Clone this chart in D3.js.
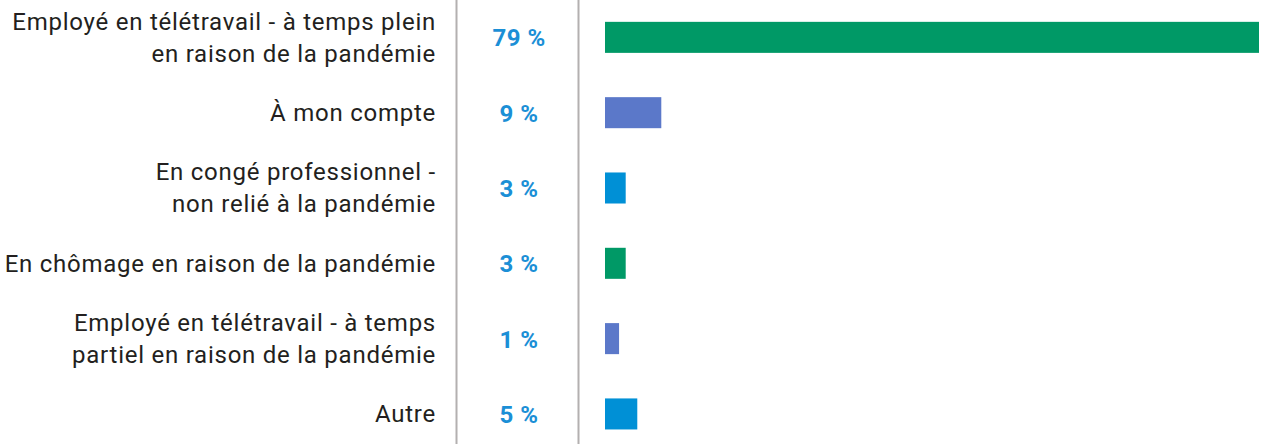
<!DOCTYPE html>
<html>
<head>
<meta charset="utf-8">
<script src="https://cdn.jsdelivr.net/npm/d3@7"></script>
<style>
  body { margin: 0; background: #fff; }
  text { font-family: Roboto, "Noto Sans", sans-serif; }
</style>
</head>
<body>
<div id="chart"></div>
<script>
// categories (label lines)
let categories = [
    ["Employé en télétravail - à temps plein", "en raison de la pandémie"],
    ["À mon compte"],
    ["En congé professionnel -", "non relié à la pandémie"],
    ["En chômage en raison de la pandémie"],
    ["Employé en télétravail - à temps", "partiel en raison de la pandémie"],
    ["Autre"]
];
// printed percentages
let percentLabels = ["79 %", "9 %", "3 %", "3 %", "1 %", "5 %"];
// bar lengths as drawn (percent)
let barValues = [79, 6.8, 2.5, 2.5, 1.7, 3.9];
let barColors = ["#009966", "#5b78c9", "#0090d6", "#009966", "#5b78c9", "#0090d6"];

let width = 1261, height = 444;
let svg = d3.select("#chart").append("svg")
    .attr("width", width)
    .attr("height", height);

let ids = categories.map((d, i) => i);
let yScale = d3.scaleBand()
    .domain(ids)
    .range([0, 451.3])
    .paddingInner(0.588)
    .paddingOuter(0.29);

let xScale = d3.scaleLinear()
    .domain([0, 79])
    .range([605, 1259]);

// separators
[456.5, 578.5].forEach(x => {
    svg.append("line")
        .attr("x1", x).attr("x2", x)
        .attr("y1", 0).attr("y2", height)
        .style("stroke", "#b3b0b0")
        .style("stroke-width", 2);
});

let rows = svg.selectAll(".row")
    .data(ids)
    .enter()
    .append("g")
    .attr("class", "row");

rows.append("rect")
    .attr("x", xScale(0))
    .attr("y", d => yScale(d))
    .attr("width", d => xScale(barValues[d]) - xScale(0))
    .attr("height", yScale.bandwidth())
    .attr("fill", d => barColors[d]);

let lineH = 32;
rows.append("text")
    .attr("text-anchor", "end")
    .style("font-size", "24px")
    .style("letter-spacing", "0.75px")
    .style("fill", "#231f20")
    .each(function(d) {
        let lines = categories[d];
        let cy = yScale(d) + yScale.bandwidth() / 2;
        let y0 = cy - (lines.length - 1) * lineH / 2 + 8.5;
        lines.forEach((t, j) => {
            d3.select(this).append("tspan")
                .attr("x", 436)
                .attr("y", y0 + j * lineH)
                .text(t);
        });
    });

rows.append("text")
    .attr("x", 519)
    .attr("y", d => yScale(d) + yScale.bandwidth() / 2 + 9)
    .attr("text-anchor", "middle")
    .style("font-size", "24px")
    .style("letter-spacing", "0.5px")
    .style("font-weight", "bold")
    .style("fill", "#1b8fd6")
    .text(d => percentLabels[d]);
</script>
</body>
</html>
